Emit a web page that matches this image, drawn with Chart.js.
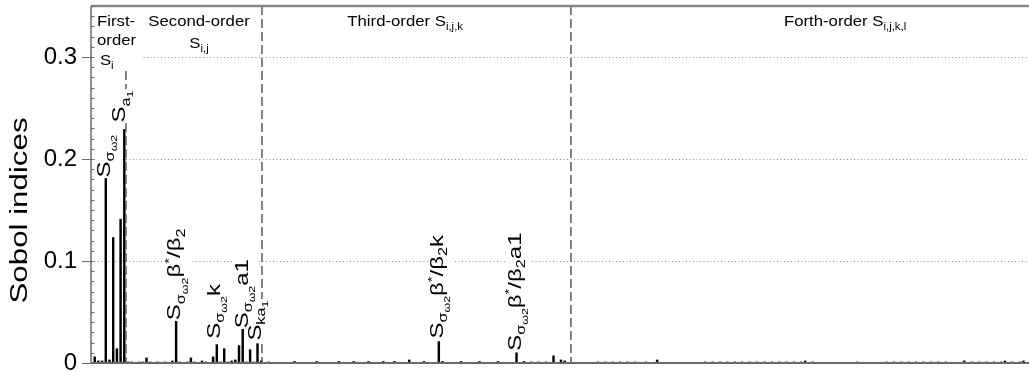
<!DOCTYPE html>
<html>
<head>
<meta charset="utf-8">
<title>Sobol indices</title>
<script src="https://cdn.jsdelivr.net/npm/chart.js@4.4.0/dist/chart.umd.min.js"></script>
<style>
  html, body { margin: 0; padding: 0; background: #fff; }
  #wrap { width: 1029px; height: 372px; position: relative; }
</style>
</head>
<body>
<div id="wrap"><canvas id="sobolChart"></canvas></div>
<script>
// Sobol indices, one bar per term, grouped by interaction order
const firstOrder = [0.006, 0.002, 0.002, 0.181, 0.003, 0.123, 0.014, 0.141, 0.229];

const secondOrder = [
  0.001, 0.001, 0.0005, 0.001, 0.001, 0.005, 0.001, 0.0005, 0.001, 0.0005, 0.001, 0.0005,
  0.002, 0.041, 0.001, 0.0005, 0.001, 0.005, 0.001, 0.0005, 0.002, 0.001, 0.0005, 0.006,
  0.018, 0.001, 0.014, 0.001, 0.002, 0.003, 0.017, 0.033, 0.001, 0.013, 0.001, 0.019
];

const thirdOrder = [
  0.002, 0.0005, 0.001, 0.0005, 0, 0.0005, 0.0005, 0, 0.0005, 0.0015, 0.0005, 0,
  0.0005, 0, 0.0005, 0.0015, 0.0005, 0, 0.0005, 0.0005, 0, 0.0015, 0.0005, 0,
  0.0005, 0.0015, 0.0005, 0, 0.0005, 0.0015, 0.0005, 0, 0.0005, 0.0015, 0.0005, 0,
  0.0015, 0.0005, 0, 0.0005, 0.003, 0.0005, 0, 0.0005, 0.0015, 0.0005, 0, 0.0005,
  0.021, 0.0015, 0.0005, 0, 0.0005, 0.0005, 0.0015, 0.0005, 0, 0.0005, 0.0005, 0.0015,
  0.0005, 0, 0.0005, 0.0005, 0.0015, 0.0005, 0, 0.0005, 0.0005, 0.010, 0.0005, 0.0015,
  0.0005, 0.001, 0.0005, 0.001, 0.0005, 0.001, 0.0005, 0.007, 0.0005, 0.003, 0.002, 0.0005
];

const fourthOrder = [
  0.0005, 0, 0.0005, 0, 0.0005, 0, 0.0005, 0.001, 0.0005, 0.001, 0.0005, 0.001,
  0.0005, 0.001, 0.0005, 0.001, 0.0005, 0.001, 0.0005, 0.0005, 0.001, 0, 0.0005, 0.003,
  0.0005, 0, 0.0005, 0, 0.0005, 0, 0, 0.0005, 0, 0.0005, 0, 0.0005,
  0.001, 0.0005, 0.001, 0.0005, 0.001, 0.0005, 0.001, 0.0005, 0.001, 0.0005, 0.001, 0.0005,
  0.001, 0.0005, 0.001, 0.0005, 0.001, 0.0005, 0.001, 0.0005, 0.001, 0.0005, 0.001, 0.0005,
  0.001, 0.0005, 0.001, 0.002, 0.0005, 0.001, 0.0005, 0, 0.0005, 0, 0.0005, 0,
  0.0005, 0, 0.0005, 0, 0.0005, 0.001, 0.0005, 0, 0.0005, 0, 0.0005, 0,
  0.0005, 0.001, 0.0005, 0.001, 0.0005, 0.001, 0.0005, 0.001, 0.0005, 0.001, 0.0005, 0.001,
  0.0005, 0.001, 0.0005, 0.001, 0.0005, 0.001, 0.0005, 0, 0.0005, 0.0005, 0.002, 0.0005,
  0.001, 0.0005, 0.001, 0.0005, 0.001, 0.0005, 0.001, 0.0005, 0.001, 0.002, 0.0005, 0.001,
  0.0005, 0.001, 0.002, 0.0005, 0.001, 0.0005
];

const yTicks = [0, 0.1, 0.2, 0.3];
// boundaries between the order groups, in bar-index units
const orderBounds = [9.45, 46.2, 129.7];

const allValues = firstOrder.concat(secondOrder, thirdOrder, fourthOrder);
const barPoints = allValues.map((v, i) => ({ x: i + 1, y: v }));

const FONT = '"Liberation Sans", Arial, Helvetica, sans-serif';
// [size factor, baseline shift factor] per text level: 0 normal, 1 sub, 2 sub-sub, -1 sup
const LEVELS = { '0': [1, 0], '1': [0.68, 0.25], '2': [0.52, 0.42], '-1': [0.62, -0.4] };

function richWidth(ctx, segs, F) {
  let w = 0;
  segs.forEach(([t, lv]) => {
    ctx.font = (F * LEVELS[lv][0]) + 'px ' + FONT;
    w += ctx.measureText(t).width;
  });
  return w;
}

// pass 'bg' paints only the white box behind the text, 'text' only the glyphs
function drawRich(ctx, segs, F, o, pass) {
  const w = richWidth(ctx, segs, F);
  ctx.save();
  ctx.translate(o.x, o.y);
  if (o.rotate) ctx.rotate(-Math.PI / 2);
  ctx.scale(o.stretch || 1, 1);
  const x0 = o.align === 'center' ? -w / 2 : 0;
  if (pass === 'bg') {
    ctx.fillStyle = '#fff';
    ctx.fillRect(x0 - 0.5, -0.8 * F, w + 1.5, 1.4 * F);
    ctx.restore();
    return;
  }
  ctx.fillStyle = '#000';
  ctx.textAlign = 'left';
  ctx.textBaseline = 'alphabetic';
  let x = x0;
  segs.forEach(([t, lv]) => {
    const [k, dy] = LEVELS[lv];
    ctx.font = (F * k) + 'px ' + FONT;
    ctx.fillText(t, x, dy * F);
    x += ctx.measureText(t).width;
  });
  ctx.restore();
}

const S = ['S', 0], SIG = ['σ', 1], OM = ['ω2', 2];
const barLabels = [
  { bar: 4, gap: 1, dx: 4, segs: [S, SIG, OM] },
  { bar: 9, gap: 7, dx: 1, segs: [S, ['a', 1], ['1', 2]] },
  { bar: 23, gap: 1, dx: 4, segs: [S, SIG, OM, ['β', 0], ['*', -1], ['/β', 0], ['2', 1]] },
  { bar: 34, gap: 6, dx: 3, segs: [S, SIG, OM, ['k', 0]] },
  { bar: 41, gap: 1, dx: 5, segs: [S, SIG, OM, ['a1', 0]] },
  { bar: 45, gap: 3, dx: 3, segs: [S, ['ka', 1], ['1', 2]] },
  { bar: 94, gap: 3, dx: 4, segs: [S, SIG, OM, ['β', 0], ['*', -1], ['/β', 0], ['2', 1], ['k', 0]] },
  { bar: 115, gap: 2, dx: 4, segs: [S, SIG, OM, ['β', 0], ['*', -1], ['/β', 0], ['2', 1], ['a1', 0]] }
];

// group headings: x in bar-index units, dy = baseline below the top of the plot
const groupTitles = [
  { x: 1.62, dy: 20, align: 'left', segs: [['First-', 0]] },
  { x: 1.62, dy: 39, align: 'left', segs: [['order', 0]] },
  { x: 2.4, dy: 59, align: 'left', segs: [S, ['i', 1]] },
  { x: 29.2, dy: 20, align: 'center', segs: [['Second-order', 0]] },
  { x: 29.2, dy: 42, align: 'center', segs: [S, ['i,j', 1]] },
  { x: 84.9, dy: 20, align: 'center', segs: [['Third-order S', 0], ['i,j,k', 1]] },
  { x: 203.8, dy: 20, align: 'center', segs: [['Forth-order S', 0], ['i,j,k,l', 1]] }
];

const LABEL_FONT = 18, LABEL_STRETCH = 1.33;

const sobolDecor = {
  id: 'sobolDecor',
  beforeDatasetsDraw(chart) {
    const { ctx, chartArea: a, scales: { y } } = chart;
    ctx.save();
    ctx.strokeStyle = '#8c8c8c';
    ctx.lineWidth = 1;
    ctx.setLineDash([1, 2.5]);
    yTicks.filter(v => v > 0).forEach(v => {
      const py = Math.round(y.getPixelForValue(v)) + 0.5;
      ctx.beginPath();
      ctx.moveTo(a.left, py);
      ctx.lineTo(a.right, py);
      ctx.stroke();
    });
    ctx.restore();
  },
  afterDatasetsDraw(chart) {
    const { ctx, chartArea: a, scales: { x, y } } = chart;
    ctx.save();
    // dashed separators between orders
    ctx.strokeStyle = '#5a5a5a';
    ctx.lineWidth = 1.5;
    ctx.setLineDash([9, 4]);
    orderBounds.forEach(b => {
      const px = x.getPixelForValue(b);
      ctx.beginPath();
      ctx.moveTo(px, a.top);
      ctx.lineTo(px, a.bottom);
      ctx.stroke();
    });
    ctx.setLineDash([]);

    // white box behind the first-order heading
    ctx.fillStyle = '#fff';
    ctx.fillRect(a.left + 1, a.top + 1, 51, 64);

    const labelOpts = barLabels.map(l => ({
      x: x.getPixelForValue(l.bar) + l.dx,
      y: y.getPixelForValue(allValues[l.bar - 1]) - l.gap,
      rotate: true,
      stretch: LABEL_STRETCH
    }));
    barLabels.forEach((l, i) => drawRich(ctx, l.segs, LABEL_FONT, labelOpts[i], 'bg'));
    barLabels.forEach((l, i) => drawRich(ctx, l.segs, LABEL_FONT, labelOpts[i], 'text'));

    groupTitles.forEach(t => {
      drawRich(ctx, t.segs, 15.5, { x: x.getPixelForValue(t.x), y: a.top + t.dy, align: t.align, stretch: 1.08 }, 'text');
    });

    // frame: top border, left axis, bottom axis
    ctx.strokeStyle = '#858585';
    ctx.lineWidth = 2.5;
    ctx.beginPath();
    ctx.moveTo(a.left, a.top);
    ctx.lineTo(a.right, a.top);
    ctx.stroke();
    ctx.strokeStyle = '#6a6a6a';
    ctx.lineWidth = 2;
    ctx.beginPath();
    ctx.moveTo(a.left, a.bottom);
    ctx.lineTo(a.right, a.bottom);
    ctx.stroke();
    ctx.lineWidth = 1.5;
    ctx.beginPath();
    ctx.moveTo(a.left, a.top);
    ctx.lineTo(a.left, a.bottom);
    ctx.stroke();

    // y ticks: major outward, minor every 0.01 inward
    ctx.lineWidth = 1.2;
    ctx.beginPath();
    for (let k = 0; k <= 35; k++) {
      const py = Math.round(y.getPixelForValue(k / 100)) + 0.5;
      if (k % 10 === 0) {
        ctx.moveTo(a.left - 9, py);
        ctx.lineTo(a.left + 3, py);
      } else {
        ctx.moveTo(a.left, py);
        ctx.lineTo(a.left + 3.5, py);
      }
    }
    ctx.stroke();
    ctx.restore();
  },
  afterDraw(chart) {
    const { ctx, chartArea: a } = chart;
    const segs = [['Sobol indices', 0]];
    const F = 23, st = 1.36;
    const w = richWidth(ctx, segs, F) * st;
    const cy = (a.top + a.bottom) / 2 + 26;
    drawRich(ctx, segs, F, { x: 27, y: cy + w / 2, rotate: true, stretch: st }, 'text');
  }
};

const chartCtx = document.getElementById('sobolChart').getContext('2d');
new Chart(chartCtx, {
  type: 'bar',
  data: {
    datasets: [{
      data: barPoints,
      backgroundColor: '#000',
      borderWidth: 0,
      barThickness: 1.8
    }]
  },
  options: {
    responsive: true,
    maintainAspectRatio: false,
    animation: false,
    layout: { padding: { top: 6, bottom: 9, left: 0, right: 0 } },
    plugins: {
      legend: { display: false },
      tooltip: { enabled: false }
    },
    scales: {
      x: { type: 'linear', min: 0, max: 253.5, offset: false, display: false },
      y: {
        min: 0,
        max: 0.35,
        grid: { display: false, drawTicks: false },
        border: { display: false },
        afterFit: s => {
          s.width = 91;
          s.paddingTop = 0;
          s.paddingBottom = 0;
        },
        afterBuildTicks: s => { s.ticks = yTicks.map(v => ({ value: v })); },
        ticks: {
          padding: 14,
          color: '#000',
          font: { family: FONT, size: 24 },
          callback: v => (v === 0 ? '0' : v.toFixed(1))
        }
      }
    }
  },
  plugins: [sobolDecor]
});
</script>
</body>
</html>
